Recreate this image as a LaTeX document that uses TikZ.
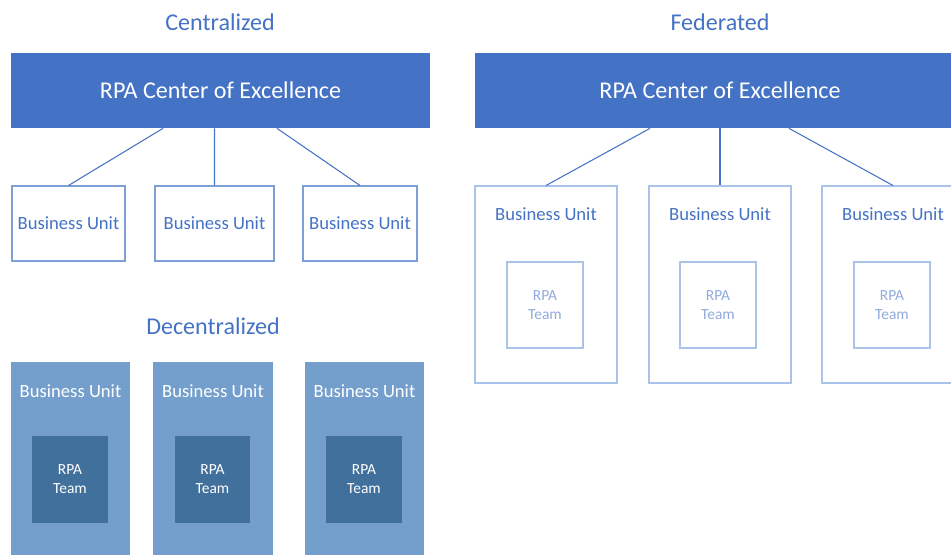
\documentclass[tikz,border=0pt]{standalone}
\usepackage{fontspec}
\setmainfont{Carlito}
\usepackage{tikz}
\definecolor{coeblue}{HTML}{4472C4}
\definecolor{cbuline}{HTML}{7F9FD9}
\definecolor{fbuline}{HTML}{A9C4E8}
\definecolor{teamtext}{HTML}{8FAADC}
\definecolor{dbufill}{HTML}{749FCD}
\definecolor{dteamfill}{HTML}{41709C}
\newcommand{\bigfont}{\fontsize{13.7}{16}\selectfont}
\newcommand{\bufont}{\fontsize{10.6}{12.6}\selectfont}
\newcommand{\teamfont}{\fontsize{8.8}{10.8}\selectfont}

\tikzset{
  title/.style={text=coeblue, font=\bigfont},
  coe/.style={fill=coeblue, draw=none, text=white, font=\bigfont,
    minimum height=1.5cm, inner sep=0pt},
  cbu/.style={draw=cbuline, line width=0.6pt, text=coeblue, font=\bufont,
    minimum height=1.5cm, inner sep=0pt},
  fbu/.style={draw=fbuline, line width=0.6pt, minimum width=2.84cm,
    minimum height=3.94cm, inner sep=0pt},
  fteam/.style={draw=fbuline, line width=0.6pt, text=teamtext, font=\teamfont,
    align=center, minimum width=1.52cm, minimum height=1.72cm, inner sep=0pt},
  dbu/.style={fill=dbufill, draw=none, minimum height=3.88cm, inner sep=0pt},
  dteam/.style={fill=dteamfill, draw=none, text=white, font=\teamfont,
    align=center, minimum width=1.52cm, minimum height=1.74cm, inner sep=0pt},
  butext/.style={font=\bufont, inner sep=0pt},
  link/.style={draw=coeblue, line width=0.6pt}
}

\begin{document}
\begin{tikzpicture}[x=0.02cm, y=-0.02cm]

    \useasboundingbox (0, 0) rectangle (951, 555);

    % centralized
    \node[title] (tC) at (220, 22) {Centralized};
    \node[coe, minimum width=8.38cm] (coeC) at (220.5, 90.5) {RPA Center of Excellence};
    \node[cbu, minimum width=2.26cm] (cbu1) at (68.5, 223.5) {Business Unit};
    \node[cbu, minimum width=2.38cm] (cbu2) at (214.5, 223.5) {Business Unit};
    \node[cbu, minimum width=2.28cm] (cbu3) at (360, 223.5) {Business Unit};

    \draw[link] ([xshift=-1.15cm]coeC.south) -- (cbu1.north);
    \draw[link] ([xshift=-0.12cm]coeC.south) -- (cbu2.north);
    \draw[link] ([xshift=1.13cm]coeC.south) -- (cbu3.north);

    % federated
    \node[title] (tF) at (720, 22) {Federated};
    \node[coe, minimum width=9.8cm] (coeF) at (720, 90.5) {RPA Center of Excellence};
    \node[fbu] (fbu1) at (546, 284.5) {};
    \node[fbu] (fbu2) at (720, 284.5) {};
    \node[fbu] (fbu3) at (893, 284.5) {};
    \node[butext, text=coeblue] (fbu1t) at ([yshift=-0.57cm]fbu1.north) {Business Unit};
    \node[butext, text=coeblue] (fbu2t) at ([yshift=-0.57cm]fbu2.north) {Business Unit};
    \node[butext, text=coeblue] (fbu3t) at ([yshift=-0.57cm]fbu3.north) {Business Unit};
    \node[fteam] (fteam1) at (545, 305) {RPA\\Team};
    \node[fteam] (fteam2) at (718, 305) {RPA\\Team};
    \node[fteam] (fteam3) at (892, 305) {RPA\\Team};

    \draw[link] ([xshift=-1.4cm]coeF.south) -- (fbu1.north);
    \draw[link] (coeF.south) -- (fbu2.north);
    \draw[link] ([xshift=1.38cm]coeF.south) -- (fbu3.north);

    % decentralized
    \node[title] (tD) at (213, 326) {Decentralized};
    \node[dbu, minimum width=2.38cm] (dbu1) at (70.5, 459) {};
    \node[dbu, minimum width=2.4cm] (dbu2) at (213, 459) {};
    \node[dbu, minimum width=2.38cm] (dbu3) at (364.5, 459) {};
    \node[butext, text=white] (dbu1t) at ([yshift=-0.59cm]dbu1.north) {Business Unit};
    \node[butext, text=white] (dbu2t) at ([yshift=-0.59cm]dbu2.north) {Business Unit};
    \node[butext, text=white] (dbu3t) at ([yshift=-0.59cm]dbu3.north) {Business Unit};
    \node[dteam] (dteam1) at (70, 479.5) {RPA\\Team};
    \node[dteam] (dteam2) at (212.5, 479.5) {RPA\\Team};
    \node[dteam] (dteam3) at (364, 479.5) {RPA\\Team};

  \end{tikzpicture}
\end{document}
